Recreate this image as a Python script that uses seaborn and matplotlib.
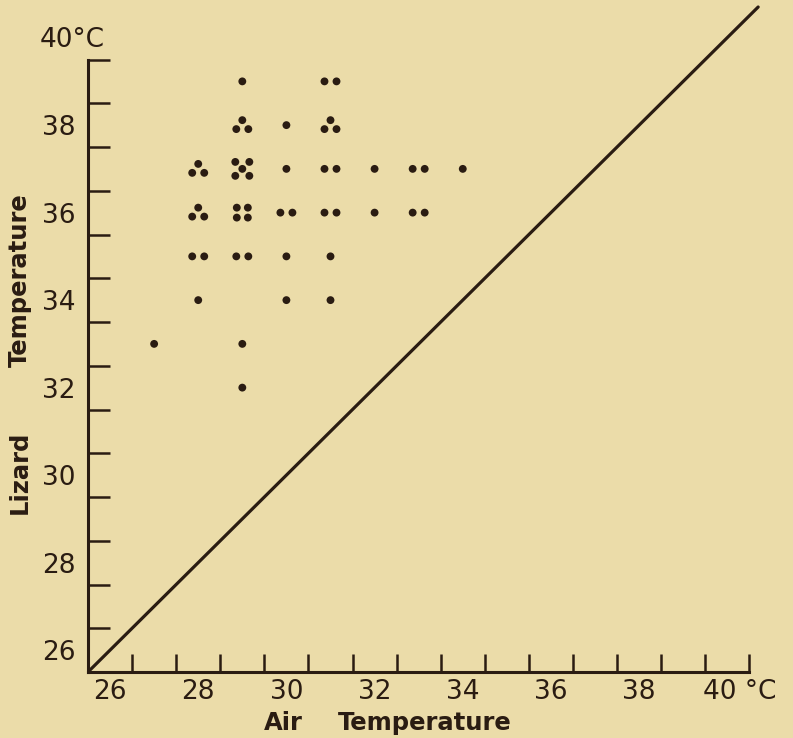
import numpy as np
import pandas as pd
import matplotlib.pyplot as plt
import seaborn as sns

# readings: air temperature (x), lizard body temperature (y), number of lizards at that point
air_temp = [27, 28, 28, 28, 28, 29, 29, 29, 29, 29, 29, 29, 30, 30, 30, 30, 30,
            31, 31, 31, 31, 31, 31, 32, 32, 33, 33, 34]
lizard_temp = [33, 37, 36, 35, 34, 39, 38, 37, 36, 35, 33, 32, 38, 37, 36, 35, 34,
               39, 38, 37, 36, 35, 34, 37, 36, 37, 36, 37]
n_obs = [1, 3, 3, 2, 1, 1, 3, 5, 4, 2, 1, 1, 1, 1, 2, 1, 1,
         2, 3, 2, 2, 1, 1, 1, 1, 2, 2, 1]

x_ticklabels = ['26', '28', '30', '32', '34', '36', '38']
y_ticklabels = ['26', '28', '30', '32', '34', '36', '38']

BG = '#ebdca9'
INK = '#2a1c12'

# how several dots at one reading are grouped (pixel offsets, y up)
cluster = {
    1: [(0, 0)],
    2: [(-6, 0), (6, 0)],
    3: [(0, 5), (-6, -4), (6, -4)],
    4: [(-5.5, 5), (5.5, 5), (-5.5, -5), (5.5, -5)],
    5: [(-7, 7), (7, 7), (0, 0), (-7, -7), (7, -7)],
}
PX = 1 / 44.0  # data units per pixel

rows = []
for a, l, n in zip(air_temp, lizard_temp, n_obs):
    for dx, dy in cluster[n]:
        rows.append({'air': a + dx * PX, 'lizard': l + dy * PX})
df = pd.DataFrame(rows)

sns.set_theme(style='ticks')
plt.rcParams['font.family'] = ['DejaVu Sans']

fig = plt.figure(figsize=(7.93, 7.38), dpi=100, facecolor=BG)
ax = fig.add_axes([88 / 793, 66 / 738, 705 / 793, 672 / 738])
ax.set_facecolor(BG)

sns.scatterplot(data=df, x='air', y='lizard', ax=ax, color=INK, s=32,
                edgecolor='none', linewidth=0, zorder=3)

# equality line
diag = np.array([25.5, 40.7])
sns.lineplot(x=diag, y=diag, ax=ax, color=INK, linewidth=2.3, zorder=2)

ax.set_xlim(25.5, 41.49)
ax.set_ylim(25.5, 40.86)

for side in ['top', 'right']:
    ax.spines[side].set_visible(False)
for side in ['left', 'bottom']:
    ax.spines[side].set_color(INK)
    ax.spines[side].set_linewidth(2.2)
ax.spines['left'].set_bounds(25.5, 39.5)
ax.spines['bottom'].set_bounds(25.5, 40.5)

ax.set_xticks(np.arange(26.5, 41, 1))
ax.set_xticklabels([])
ax.set_yticks(np.arange(26.5, 40, 1))
ax.set_yticklabels([])
ax.set_xticks(np.arange(26, 40, 2), labels=x_ticklabels, minor=True)
ax.set_yticks(np.arange(26, 40, 2), labels=y_ticklabels, minor=True)

ax.tick_params(axis='x', which='major', direction='in', length=13, width=1.8, color=INK)
ax.tick_params(axis='y', which='major', direction='in', length=16, width=1.8, color=INK)
ax.tick_params(axis='x', which='minor', length=0, pad=5, labelsize=19, labelcolor=INK)
ax.tick_params(axis='y', which='minor', length=0, pad=9, labelsize=19, labelcolor=INK)

# end labels carrying the unit
ax.annotate('40 °C', xy=(39.45, 0), xycoords=ax.get_xaxis_transform(),
            xytext=(0, -5), textcoords='offset points', ha='left', va='top',
            fontsize=19, color=INK, annotation_clip=False)
fig.text(40 / 793, 1 - 40 / 738, '40°C', ha='left', va='center',
         fontsize=19, color=INK)

ax.set_xlabel('')
ax.set_ylabel('')
fig.text(20 / 793, 1 - 472 / 738, 'Lizard', rotation=90, ha='center', va='center',
         fontsize=17.5, fontweight='bold', color=INK)
fig.text(20 / 793, 1 - 280 / 738, 'Temperature', rotation=90, ha='center', va='center',
         fontsize=17.5, fontweight='bold', color=INK)
fig.text(283 / 793, 1 - 723 / 738, 'Air', ha='center', va='center',
         fontsize=17.5, fontweight='bold', color=INK)
fig.text(425 / 793, 1 - 723 / 738, 'Temperature', ha='center', va='center',
         fontsize=17.5, fontweight='bold', color=INK)

fig.savefig('out.png', dpi=100, facecolor=BG)
plt.close(fig)
